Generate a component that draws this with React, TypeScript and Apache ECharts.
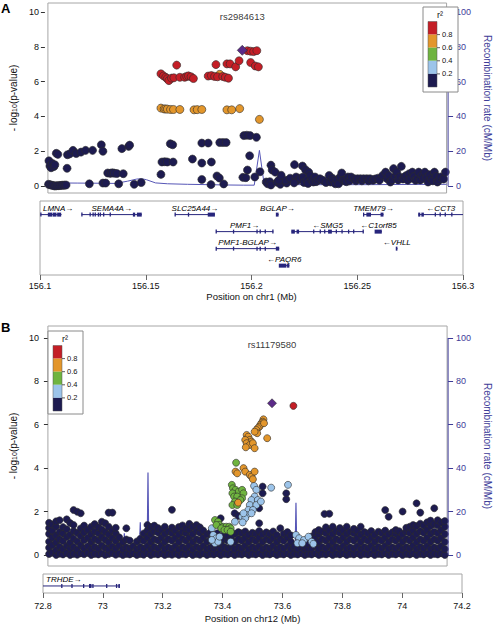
import React, { useEffect, useRef } from "react";
import * as echarts from "echarts";

// ================= Panel A data =================
const indexSnpA = { id: "rs2984613", x: 156.1975, y: 7.8 };
const xTicksA = [156.1, 156.15, 156.2, 156.25, 156.3];
const pTicks = [0, 2, 4, 6, 8, 10];
const recombTicks = [0, 20, 40, 60, 80, 100];
const titleY = 9.72;

const navyA: [number, number][] = [
  [156.1005, 1.45], [156.101, 1.15], [156.1016, 1.05], [156.1022, 1.3], [156.103, 1.12], [156.1035, 1.22],
  [156.1042, 1.88], [156.105, 1.82],
  [156.1003, 0.1], [156.1011, 0.07], [156.1019, 0.05], [156.1027, 0.03], [156.1035, 0.0], [156.1043, 0.02],
  [156.1051, 0.02], [156.1059, 0.03], [156.1067, 0.04], [156.1075, 0.05], [156.1083, 0.05], [156.1091, 0.06],
  [156.1098, 1.8], [156.111, 1.85], [156.1126, 2.05], [156.1142, 1.87], [156.1096, 1.02],
  [156.1166, 1.95], [156.1189, 2.05], [156.1224, 2.05], [156.1268, 2.37], [156.1276, 2.0],
  [156.1208, 0.13], [156.1276, 0.17], [156.129, 0.17],
  [156.13, 0.75], [156.1313, 0.73], [156.1323, 0.76], [156.1333, 0.74], [156.1346, 0.72], [156.1378, 0.71],
  [156.1355, 0.13], [156.1371, 2.15], [156.1405, 2.28], [156.141, 2.35],
  [156.1433, 0.1], [156.1468, 0.2],
  [156.1567, 0.67], [156.1572, 1.38], [156.1586, 1.4], [156.1599, 1.38], [156.1628, 1.38],
  [156.1614, 2.43], [156.1626, 2.37],
  [156.1725, 1.55], [156.1772, 2.47], [156.1804, 2.47], [156.1772, 1.32], [156.182, 1.38],
  [156.1772, 0.38], [156.1818, 0.08], [156.1848, 0.58], [156.186, 0.46], [156.1882, 0.12],
  [156.1862, 2.5], [156.1878, 2.5], [156.1894, 2.5],
  [156.1983, 2.9], [156.1998, 2.92], [156.2014, 2.9], [156.2046, 2.8],
  [156.2012, 1.74], [156.2001, 0.92], [156.1978, 0.5], [156.1993, 0.48], [156.2038, 0.52],
  [156.2064, 0.82], [156.2095, 0.23], [156.2103, 0.13],
  [156.2119, 1.2], [156.2125, 0.92], [156.2113, 0.25], [156.2119, 0.06], [156.215, 0.22], [156.2166, 0.1],
  [156.2198, 0.17], [156.219, 0.33], [156.2158, 0.33], [156.214, 0.8], [156.217, 0.62], [156.2215, 0.45],
  [156.2237, 1.23], [156.2245, 0.52], [156.2253, 0.33], [156.2235, 0.18], [156.2265, 0.45], [156.2277, 1.15],
  [156.228, 0.52], [156.2285, 0.2], [156.2292, 0.94], [156.23, 0.33], [156.2305, 0.15], [156.2308, 0.8],
  [156.2316, 0.61], [156.2324, 0.33], [156.2332, 0.23], [156.234, 0.52], [156.2345, 0.25], [156.2355, 0.33],
  [156.2365, 0.42], [156.2379, 0.33], [156.2395, 0.2], [156.2411, 0.61], [156.2419, 0.23], [156.2427, 0.45],
  [156.2434, 0.33], [156.2442, 0.13], [156.245, 0.35], [156.2458, 0.13], [156.2466, 0.52], [156.2474, 0.75],
  [156.2482, 0.33], [156.2489, 0.33], [156.2497, 0.25], [156.2505, 0.52], [156.2513, 0.3], [156.2521, 0.52],
  [156.2537, 0.42], [156.2545, 0.3], [156.2553, 0.42], [156.2568, 0.42], [156.2575, 0.3], [156.2584, 0.42],
  [156.26, 0.42], [156.2608, 0.3], [156.2616, 0.42], [156.2631, 0.33], [156.264, 0.4], [156.2655, 0.45],
  [156.2663, 0.33], [156.2679, 0.61], [156.2694, 0.8], [156.2702, 0.42], [156.271, 0.6], [156.2718, 0.23],
  [156.2726, 0.35], [156.2734, 1.0], [156.2742, 0.55], [156.275, 0.8], [156.2757, 0.35], [156.2765, 0.52],
  [156.2773, 1.13], [156.2781, 0.4], [156.2789, 0.52], [156.2797, 0.6], [156.2805, 0.33], [156.2813, 0.71],
  [156.282, 0.45], [156.2828, 0.8], [156.2836, 0.55], [156.2844, 0.33], [156.2852, 0.4], [156.286, 0.8],
  [156.2868, 0.35], [156.2876, 0.61], [156.2884, 0.45], [156.2891, 0.8], [156.29, 0.5], [156.2907, 0.23],
  [156.2915, 0.65], [156.2923, 0.42], [156.2931, 0.3], [156.2939, 0.8], [156.2947, 0.55], [156.2954, 0.23],
  [156.2962, 0.35], [156.297, 0.52], [156.2985, 0.4], [156.2994, 0.8],
];

const orangeA: [number, number][] = [
  [156.1567, 4.48], [156.1583, 4.43], [156.1591, 4.43], [156.1599, 4.42], [156.1615, 4.4], [156.163, 4.4],
  [156.1662, 4.4], [156.1733, 4.38], [156.1749, 4.39], [156.1772, 4.4], [156.1898, 4.38], [156.1922, 4.38],
  [156.1962, 4.45], [156.2061, 3.83], [156.1862, 6.42],
];

const redA: [number, number][] = [
  [156.1567, 6.45], [156.158, 6.33], [156.1591, 6.25], [156.1599, 6.17], [156.1607, 6.06], [156.162, 6.2],
  [156.1632, 6.22], [156.1646, 6.95], [156.1662, 6.25], [156.1686, 6.25], [156.1696, 6.3], [156.1705, 6.33],
  [156.1718, 6.28], [156.173, 6.18], [156.1804, 6.32], [156.182, 6.35], [156.1836, 6.3], [156.1851, 6.28],
  [156.1843, 6.98], [156.1877, 6.3], [156.189, 6.25], [156.1906, 6.2], [156.1898, 7.02], [156.1914, 7.02],
  [156.1942, 6.85], [156.1959, 7.2], [156.2001, 7.78], [156.2017, 7.75], [156.2032, 7.73], [156.2048, 7.78],
  [156.2017, 7.1], [156.204, 6.9], [156.2056, 6.85],
];

const recombA: [number, number][] = [
  [156.1, 1.8], [156.115, 1.7], [156.128, 1.6], [156.134, 1.5], [156.14, 2.8], [156.1445, 4.0], [156.147, 4.2],
  [156.1495, 3.6], [156.154, 1.8], [156.16, 1.3], [156.17, 1.0], [156.18, 0.8], [156.19, 0.6], [156.198, 0.5],
  [156.2035, 0.5], [156.2061, 20.5], [156.2085, 0.8], [156.2175, 0.9], [156.2178, 1.8], [156.2245, 1.8],
  [156.2248, 0.8], [156.26, 0.8], [156.28, 0.9], [156.3, 1.0],
];

type Gene = { name: string; start: number; end: number; row: number; strand: number; exons: [number, number][] };

const genesA: Gene[] = [
  { name: "LMNA", start: 156.1003, end: 156.1102, row: 1, strand: 1,
    exons: [[156.1003, 156.1005], [156.1039, 156.1058], [156.1062, 156.1078], [156.1083, 156.11]] },
  { name: "SEMA4A", start: 156.1197, end: 156.1481, row: 1, strand: 1,
    exons: [[156.1197, 156.1199], [156.1236, 156.1238], [156.125, 156.1252], [156.126, 156.1263], [156.1275, 156.1277],
      [156.1284, 156.1287], [156.13, 156.1304], [156.1331, 156.1333], [156.1441, 156.145], [156.146, 156.1481]] },
  { name: "SLC25A44", start: 156.1638, end: 156.1827, row: 1, strand: 1,
    exons: [[156.1638, 156.164], [156.1701, 156.1704], [156.1795, 156.1827]] },
  { name: "BGLAP", start: 156.2117, end: 156.2128, row: 1, strand: 1, exons: [[156.2117, 156.2128]] },
  { name: "TMEM79", start: 156.2529, end: 156.2624, row: 1, strand: 1,
    exons: [[156.2529, 156.2531], [156.2545, 156.2565], [156.2612, 156.2624]] },
  { name: "CCT3", start: 156.279, end: 156.3, row: 1, strand: -1,
    exons: [[156.279, 156.2798], [156.2805, 156.2815], [156.2868, 156.2871], [156.2891, 156.2894],
      [156.2915, 156.2918], [156.2946, 156.2949]] },
  { name: "PMF1", start: 156.1832, end: 156.2103, row: 2, strand: 1,
    exons: [[156.1832, 156.1834], [156.1914, 156.1916], [156.2025, 156.2028], [156.204, 156.2043],
      [156.2064, 156.2067], [156.21, 156.2103]] },
  { name: "SMG5", start: 156.219, end: 156.2529, row: 2, strand: -1,
    exons: [[156.219, 156.2205], [156.2215, 156.2225], [156.2293, 156.2296], [156.2324, 156.2327], [156.2345, 156.2348],
      [156.2364, 156.238], [156.24, 156.2403], [156.2427, 156.243], [156.2458, 156.2461], [156.2482, 156.2485],
      [156.2527, 156.2529]] },
  { name: "C1orf85", start: 156.2584, end: 156.2616, row: 2, strand: -1, exons: [[156.2584, 156.2616]] },
  { name: "PMF1-BGLAP", start: 156.1832, end: 156.2131, row: 3, strand: 1,
    exons: [[156.1832, 156.1834], [156.1914, 156.1916], [156.2025, 156.2028], [156.204, 156.2043],
      [156.2064, 156.2067], [156.2117, 156.2131]] },
  { name: "VHLL", start: 156.2684, end: 156.269, row: 3, strand: -1, exons: [[156.2684, 156.269]] },
  { name: "PAQR6", start: 156.2131, end: 156.2179, row: 4, strand: -1,
    exons: [[156.2131, 156.2165], [156.217, 156.2179]] },
];

// ================= Panel B data =================
const indexSnpB = { id: "rs11179580", x: 73.586, y: 6.99 };
const xTicksB = [72.8, 73, 73.2, 73.4, 73.6, 73.8, 74, 74.2];

const navyBCols: [number, number[]][] = [
  [72.804, [0.04, 0.33, 0.61, 0.97, 1.24, 1.48]], [72.816, [0.1, 0.45, 0.8, 1.12, 1.4]],
  [72.829, [0.0, 0.22, 0.58, 0.9, 1.31, 1.55]], [72.841, [0.06, 0.38, 0.72, 1.05, 1.6]],
  [72.853, [0.02, 0.27, 0.64, 0.99, 1.28]], [72.866, [0.08, 0.41, 0.83, 1.18, 1.64]],
  [72.878, [0.0, 0.3, 0.56, 0.93, 1.47]], [72.89, [0.05, 0.36, 0.75, 1.1, 1.38, 2.07]],
  [72.903, [0.01, 0.24, 0.62, 1.01, 1.99]], [72.915, [0.07, 0.44, 0.87, 1.22, 1.92]],
  [72.927, [0.03, 0.31, 0.68, 1.04, 1.35]], [72.94, [0.09, 0.4, 0.79, 1.15]],
  [72.952, [0.0, 0.26, 0.6, 0.95, 1.3]], [72.964, [0.05, 0.37, 0.73, 1.08, 1.42]],
  [72.977, [0.02, 0.29, 0.66, 1.0, 1.27]], [72.989, [0.07, 0.43, 0.82, 1.17, 1.53]],
  [73.001, [0.0, 0.32, 0.7, 1.06, 1.46]], [73.013, [0.04, 0.25, 0.58, 0.94, 1.3, 1.95]],
  [73.026, [0.08, 0.39, 0.77, 1.12, 1.95]], [73.038, [0.01, 0.3, 0.64, 0.99, 1.25]],
  [73.05, [0.06, 0.42, 0.81]], [73.063, [0.0, 0.27, 0.6]],
  [73.075, [0.05, 0.35, 0.71, 1.23]], [73.087, [0.02, 0.3, 0.66]],
  [73.099, [0.07, 0.4]], [73.112, [0.0, 0.26, 0.62]],
  [73.124, [0.04, 0.36, 0.74]], [73.136, [0.01, 0.29, 0.65, 0.99]],
  [73.149, [0.08, 0.41, 0.8, 1.12, 1.38]], [73.161, [0.0, 0.25, 0.59, 0.96, 1.28]],
  [73.173, [0.05, 0.37, 0.72, 1.09, 1.35]], [73.186, [0.02, 0.3, 0.67, 1.03, 1.24]],
  [73.198, [0.07, 0.43, 0.8, 1.15]], [73.21, [0.0, 0.27, 0.61, 0.97, 1.3]],
  [73.222, [0.04, 0.35, 0.73, 1.08]], [73.235, [0.01, 0.29, 0.66, 1.0, 1.26, 2.08]],
  [73.247, [0.06, 0.4, 0.78, 1.13]], [73.259, [0.0, 0.25, 0.6, 0.94, 1.29]],
  [73.272, [0.05, 0.36, 0.74, 1.07, 1.36]], [73.284, [0.02, 0.3, 0.65, 1.01, 1.22]],
  [73.296, [0.08, 0.42, 0.8, 1.16, 1.43]], [73.308, [0.0, 0.26, 0.6, 0.96, 1.3]],
  [73.321, [0.04, 0.37, 0.72, 1.1, 1.38]], [73.333, [0.01, 0.3, 0.66, 1.02, 1.27]],
  [73.345, [0.07, 0.41, 0.79, 1.12]], [73.358, [0.0, 0.27, 0.61, 0.95]],
  [73.37, [0.05, 0.34, 0.7, 1.03]], [73.382, [0.02, 0.3, 0.45]],
  [73.394, [0.07, 0.38, 1.0]], [73.406, [0.0, 0.27, 0.55, 1.69]],
  [73.419, [0.05, 0.36, 0.72, 0.95]], [73.431, [0.02, 0.3, 0.65, 0.88]],
  [73.443, [0.07, 0.4, 0.8]], [73.455, [0.0, 0.27, 0.6, 0.98, 1.92]],
  [73.468, [0.05, 0.36, 0.73, 1.05, 1.8]], [73.48, [0.02, 0.3, 0.66, 1.0]],
  [73.492, [0.07, 0.42, 0.78, 1.08]], [73.504, [0.0, 0.25, 0.6, 0.93]],
  [73.517, [0.05, 0.36, 0.72, 1.02]], [73.529, [0.02, 0.3, 0.64, 0.98]],
  [73.541, [0.07, 0.4, 0.79, 1.1, 1.46, 2.15]], [73.553, [0.0, 0.27, 0.61, 0.95, 2.84, 3.15]],
  [73.566, [0.05, 0.35, 0.72, 1.04]], [73.578, [0.02, 0.3, 0.66, 0.97]],
  [73.59, [0.07, 0.41, 0.78, 1.08]], [73.603, [0.0, 0.26, 0.6, 0.92]],
  [73.615, [0.05, 0.36, 0.73, 1.23]], [73.627, [0.02, 0.3, 0.65, 0.98]],
  [73.636, [2.57, 2.84]], [73.64, [0.07, 0.4, 0.8, 1.05]],
  [73.652, [0.0, 0.27, 0.61, 0.9]], [73.664, [0.05, 0.33, 0.4]],
  [73.676, [0.02, 0.28]], [73.689, [0.07, 0.35]],
  [73.701, [0.0, 0.27, 0.4]], [73.713, [0.05, 0.3, 0.5]],
  [73.725, [0.02, 0.3, 0.85]], [73.738, [0.07, 0.4, 0.78, 1.05]],
  [73.75, [0.0, 0.27, 0.6, 0.95, 1.15]], [73.762, [0.05, 0.36, 0.72, 1.08]],
  [73.77, [1.89]], [73.775, [0.02, 0.3, 0.66, 1.0, 1.27]],
  [73.787, [0.07, 0.42, 0.79, 1.12, 1.9]], [73.799, [0.0, 0.26, 0.6, 0.96, 1.3]],
  [73.811, [0.05, 0.37, 0.73, 1.09]], [73.824, [0.02, 0.3, 0.65, 1.01, 1.24]],
  [73.836, [0.07, 0.41, 0.8, 1.13]], [73.848, [0.0, 0.27, 0.61, 0.97, 1.3]],
  [73.86, [0.05, 0.35, 0.72, 1.06]], [73.873, [0.02, 0.3, 0.66, 1.0, 1.2]],
  [73.885, [0.07, 0.4, 0.78, 1.11]], [73.897, [0.0, 0.27, 0.6, 0.94, 1.3]],
  [73.91, [0.05, 0.36, 0.73, 1.05]], [73.922, [0.02, 0.3, 0.65, 0.99]],
  [73.934, [0.07, 0.42, 0.79, 1.1]], [73.946, [0.0, 0.26, 0.61, 0.93]],
  [73.959, [0.05, 0.37, 0.72, 1.07]], [73.971, [0.02, 0.3, 0.66, 1.0]],
  [73.983, [0.07, 0.41, 0.8, 1.12, 2.07]], [73.995, [0.0, 0.27, 0.6, 0.95, 1.76]],
  [74.008, [0.05, 0.35, 0.72, 1.04]], [74.02, [0.02, 0.3, 0.65, 0.98, 1.15]],
  [74.032, [0.07, 0.4, 0.78, 1.09]], [74.044, [0.0, 0.27, 0.61, 0.96, 2.0]],
  [74.057, [0.05, 0.36, 0.73, 1.08, 1.25]], [74.069, [0.02, 0.3, 0.66, 1.01, 1.3]],
  [74.081, [0.07, 0.42, 0.8, 1.14, 1.38]], [74.093, [0.0, 0.26, 0.6, 0.97, 1.33, 2.38]],
  [74.106, [0.05, 0.37, 0.72, 1.09, 1.44, 1.95]], [74.118, [0.02, 0.3, 0.65, 1.02, 1.36]],
  [74.13, [0.07, 0.41, 0.79, 1.15, 1.5]], [74.142, [0.0, 0.27, 0.61, 0.98, 1.33, 1.58]],
  [74.155, [0.05, 0.35, 0.72, 1.07, 1.42, 2.15]], [74.167, [0.02, 0.3, 0.66, 1.0, 1.37, 1.6]],
  [74.179, [0.07, 0.4, 0.78, 1.14, 1.49]], [74.192, [0.0, 0.27, 0.6, 0.96, 1.3, 1.56]],
];

const lightBlueB: [number, number][] = [
  [73.523, 3.18], [73.531, 3.0], [73.583, 3.1], [73.642, 3.23], [73.525, 2.69], [73.514, 2.53], [73.536, 2.53],
  [73.508, 2.3], [73.531, 2.3], [73.547, 2.46], [73.503, 2.07], [73.519, 2.07], [73.497, 1.84], [73.481, 1.76],
  [73.492, 1.69], [73.514, 1.92], [73.456, 1.53], [73.486, 1.92], [73.483, 1.5], [73.375, 1.23], [73.38, 0.92],
  [73.391, 0.77], [73.386, 0.54], [73.397, 0.61], [73.402, 0.84], [73.375, 0.69], [73.441, 0.61], [73.67, 0.92],
  [73.681, 0.77], [73.698, 0.69], [73.714, 0.84], [73.675, 0.54], [73.692, 0.54], [73.725, 0.61], [73.731, 0.51],
];

const greenB: [number, number][] = [
  [73.46, 4.25], [73.445, 3.23], [73.449, 3.07], [73.458, 3.0], [73.469, 2.92], [73.481, 3.0], [73.486, 2.84],
  [73.447, 2.84], [73.453, 2.69], [73.464, 2.69], [73.481, 2.61], [73.456, 2.46], [73.447, 2.3], [73.464, 2.3],
  [73.475, 2.53], [73.386, 1.61], [73.397, 1.53], [73.402, 1.38], [73.414, 1.3], [73.425, 1.3], [73.436, 1.3],
  [73.441, 1.23], [73.391, 1.38], [73.408, 1.23], [73.419, 1.15], [73.43, 1.15], [73.441, 1.07],
];

const orangeB: [number, number][] = [
  [73.556, 6.25], [73.553, 6.14], [73.549, 6.07], [73.545, 5.99], [73.542, 5.91], [73.536, 5.84], [73.531, 5.76],
  [73.534, 5.61], [73.525, 5.68], [73.558, 6.07], [73.497, 5.53], [73.503, 5.45], [73.508, 5.3], [73.514, 5.22],
  [73.492, 5.3], [73.497, 5.15], [73.508, 5.07], [73.519, 5.15], [73.525, 4.92], [73.494, 4.96], [73.569, 5.38],
  [73.458, 3.84], [73.464, 3.76], [73.486, 4.0], [73.492, 3.84], [73.508, 3.69], [73.514, 3.61], [73.525, 3.84],
  [73.519, 3.49], [73.467, 2.41],
];

const redB: [number, number][] = [[73.661, 6.87]];

const recombB: [number, number][] = [
  [72.8, 0.6], [72.9, 0.5], [73.0, 0.8], [73.064, 0.6], [73.068, 10], [73.071, 0.6], [73.12, 0.5], [73.124, 15],
  [73.127, 0.5], [73.148, 0.5], [73.151, 38], [73.154, 0.5], [73.3, 0.4], [73.46, 0.8], [73.47, 2.5], [73.5, 0.6],
  [73.667, 0.6], [73.67, 24], [73.673, 0.6], [73.9, 0.5], [74.2, 0.6],
];

const genesB: Gene[] = [
  { name: "TRHDE", start: 72.62, end: 73.057, row: 1, strand: 1,
    exons: [[72.862, 72.864], [72.896, 72.898], [72.935, 72.937], [72.955, 72.962], [72.966, 72.969],
      [73.012, 73.014], [73.045, 73.048], [73.053, 73.057]] },
];

const legendLabels = ["0.8", "0.6", "0.4", "0.2"];

// ================= Styles =================
const FONT = '"Liberation Sans", Arial, Helvetica, sans-serif';
const C = {
  navy: "#1d1b50", lightBlue: "#9cc4ea", green: "#6fb43f", orange: "#e3962b", red: "#c41e26",
  purple: "#5b2a88", recomb: "#5656b6", axisBlue: "#3e3c98", gene: "#27257c", border: "#a6a6a6",
};
const legendColors = [C.red, C.orange, C.green, C.lightBlue, C.navy];

const measureCtx = typeof document !== "undefined" ? document.createElement("canvas").getContext("2d") : null;
function textWidth(t: string, font: string) {
  if (!measureCtx) return t.length * 5;
  measureCtx.font = font;
  return measureCtx.measureText(t).width;
}

function geneRenderer(genes: Gene[]) {
  const font = `italic 8px ${FONT}`;
  return (params: any, api: any) => {
    const g = genes[params.dataIndex];
    const cs = params.coordSys;
    const p0 = api.coord([g.start, g.row]);
    const x1 = api.coord([g.end, g.row])[0];
    const y = p0[1];
    const L = Math.max(p0[0], cs.x);
    const R = Math.min(x1, cs.x + cs.width);
    const children: any[] = [
      { type: "line", shape: { x1: L, y1: y, x2: R, y2: y }, style: { stroke: C.gene, lineWidth: 1 } },
    ];
    g.exons.forEach(([s, e]) => {
      const a = api.coord([s, g.row])[0];
      const b = api.coord([e, g.row])[0];
      children.push({
        type: "rect",
        shape: { x: a - 0.4, y: y - 2, width: Math.max(1.3, b - a + 0.4), height: 4 },
        style: { fill: C.gene },
      });
    });
    const label = g.strand > 0 ? `${g.name}\u2192` : `\u2190${g.name}`;
    const w = textWidth(label, font);
    let cx = (p0[0] + x1) / 2;
    cx = Math.max(cs.x + 3 + w / 2, Math.min(cs.x + cs.width - 1 - w / 2, cx));
    children.push({
      type: "text",
      x: cx,
      y: y - 6.5,
      style: {
        text: label, fill: "#000", fontSize: 8, fontStyle: "italic", fontFamily: FONT,
        align: "center", verticalAlign: "middle",
      },
    });
    return { type: "group", children };
  };
}

const fmtX = (v: number) => String(+(+v).toFixed(2));

function scatter(data: any[], color: string, size: number, xi: number, yi: number, symbol = "circle") {
  return {
    type: "scatter", xAxisIndex: xi, yAxisIndex: yi, data, symbol, symbolSize: size, silent: true, z: 3,
    itemStyle: { color, borderColor: "#2b2b2b", borderWidth: 0.6, opacity: 1 },
  };
}

function titleLabel(snp: { id: string; x: number }, xi: number, yi: number) {
  return {
    type: "scatter", xAxisIndex: xi, yAxisIndex: yi, data: [[snp.x, titleY]], symbolSize: 1, silent: true, z: 6,
    itemStyle: { color: "transparent", borderWidth: 0 },
    label: { show: true, position: "inside", formatter: () => snp.id, fontSize: 9.5, color: "#000",
      textBorderWidth: 0, fontFamily: FONT },
  };
}

function leftY(grid: number, min: number, max: number, offset: number, margin: number, nameGap: number) {
  return {
    gridIndex: grid, type: "value", min, max, position: "left", offset,
    axisLine: { show: false },
    axisTick: { show: true, length: 4, customValues: pTicks, lineStyle: { color: "#333", width: 1 } },
    axisLabel: { customValues: pTicks, fontSize: 9, color: "#111", margin, fontFamily: FONT },
    splitLine: { show: false },
    name: "- log{sub|10}(p-value)", nameLocation: "middle", nameGap, nameRotate: 90,
    nameTextStyle: { fontSize: 10, color: "#111", fontFamily: FONT, rich: { sub: { fontSize: 7, verticalAlign: "bottom", fontFamily: FONT, color: "#111" } } },
  };
}

function rightY(grid: number, min: number, max: number, offset: number, nameGap: number) {
  return {
    gridIndex: grid, type: "value", min, max, position: "right", offset,
    axisLine: { show: false },
    axisTick: { show: true, length: 5, customValues: recombTicks, lineStyle: { color: C.axisBlue, width: 1 } },
    axisLabel: { customValues: recombTicks, fontSize: 9, color: C.axisBlue, margin: 8, fontFamily: FONT },
    splitLine: { show: false },
    name: "Recombination rate (cM/Mb)", nameLocation: "middle", nameGap, nameRotate: -90,
    nameTextStyle: { fontSize: 10, color: C.axisBlue, fontFamily: FONT },
  };
}

function bottomX(grid: number, min: number, max: number, ticks: number[], name: string, margin: number, nameGap: number) {
  return {
    gridIndex: grid, type: "value", min, max, position: "bottom",
    axisLine: { show: false },
    axisTick: { show: true, length: 5, customValues: ticks, lineStyle: { color: "#666", width: 1 } },
    axisLabel: { customValues: ticks, formatter: fmtX, fontSize: 9, color: "#111", margin, fontFamily: FONT },
    splitLine: { show: false },
    name, nameLocation: "middle", nameGap,
    nameTextStyle: { fontSize: 9.5, color: "#111", fontFamily: FONT },
  };
}

function legendGraphic(x: number, y: number, h: number): any[] {
  const els: any[] = [];
  els.push({ type: "rect", shape: { x, y, width: 35, height: h }, style: { fill: "#fff", stroke: "#8a8a8a", lineWidth: 1 }, z: 10 });
  els.push({ type: "text", x: x + 17, y: y + 8, style: { text: "r\u00b2", fontSize: 9, fontFamily: FONT, fill: "#111", align: "center", verticalAlign: "middle" }, z: 11 });
  const bx = x + 5, by = y + 14.5, bh = 13.1;
  legendColors.forEach((c, i) => {
    els.push({ type: "rect", shape: { x: bx, y: by + i * bh, width: 9, height: bh }, style: { fill: c }, z: 11 });
  });
  els.push({ type: "rect", shape: { x: bx, y: by, width: 9, height: bh * 5 }, style: { fill: "none", stroke: "#555", lineWidth: 0.5 }, z: 12 });
  legendLabels.forEach((t, i) => {
    const ly = by + (i + 1) * bh;
    els.push({ type: "line", shape: { x1: bx + 9, y1: ly, x2: bx + 12, y2: ly }, style: { stroke: "#333", lineWidth: 0.8 }, z: 11 });
    els.push({ type: "text", x: bx + 14, y: ly, style: { text: t, fontSize: 7.5, fontFamily: FONT, fill: "#111", align: "left", verticalAlign: "middle" }, z: 11 });
  });
  return els;
}

export default function App() {
  const ref = useRef<HTMLDivElement>(null);
  useEffect(() => {
    if (!ref.current) return;
    const chart = echarts.init(ref.current, undefined, { renderer: "svg" });
    const navyB: [number, number][] = [];
    navyBCols.forEach(([x, ys]) => ys.forEach((y) => navyB.push([x, y])));

    const gridStyle = { show: true, borderColor: C.border, borderWidth: 1, backgroundColor: "transparent" };
    const option: any = {
      animation: false,
      grid: [
        { left: 40, top: 3, width: 423, height: 190, ...gridStyle },
        { left: 40, top: 201, width: 423, height: 74, ...gridStyle },
        { left: 43, top: 326, width: 419, height: 240, ...gridStyle },
        { left: 43, top: 574, width: 419, height: 19, ...gridStyle },
      ],
      xAxis: [
        { gridIndex: 0, type: "value", min: 156.1, max: 156.3, show: false },
        bottomX(1, 156.1, 156.3, xTicksA, "Position on chr1 (Mb)", 6, 16),
        { gridIndex: 2, type: "value", min: 72.8, max: 74.2, show: false },
        bottomX(3, 72.8, 74.2, xTicksB, "Position on chr12 (Mb)", 8, 20),
      ],
      yAxis: [
        leftY(0, -0.4, 10.52, 3, 6, 20),
        rightY(0, -4, 105.2, 1.5, 22),
        { gridIndex: 1, type: "value", min: 0.2, max: 4.55, inverse: true, show: false },
        leftY(2, -0.51, 10.55, 0, 9, 22),
        rightY(2, -5.1, 105.5, 1, 23),
        { gridIndex: 3, type: "value", min: 0.2, max: 1.47, inverse: true, show: false },
      ],
      series: [
        // ---- Panel A ----
        { type: "line", xAxisIndex: 0, yAxisIndex: 1, data: recombA, showSymbol: false, silent: true, z: 1,
          lineStyle: { color: C.recomb, width: 1 } },
        scatter(navyA, C.navy, 8, 0, 0),
        scatter(orangeA, C.orange, 8, 0, 0),
        scatter(redA, C.red, 8, 0, 0),
        scatter([[indexSnpA.x, indexSnpA.y]], C.purple, 10, 0, 0, "diamond"),
        titleLabel(indexSnpA, 0, 0),
        { type: "custom", xAxisIndex: 1, yAxisIndex: 2, renderItem: geneRenderer(genesA), silent: true,
          data: genesA.map((g) => [g.start, g.end, g.row]), encode: { x: [0, 1], y: 2 } },
        // ---- Panel B ----
        { type: "line", xAxisIndex: 2, yAxisIndex: 4, data: recombB, showSymbol: false, silent: true, z: 1,
          lineStyle: { color: C.recomb, width: 1.2 } },
        scatter(navyB, C.navy, 7, 2, 3),
        scatter(lightBlueB, C.lightBlue, 7, 2, 3),
        scatter(greenB, C.green, 7, 2, 3),
        scatter(orangeB, C.orange, 7, 2, 3),
        scatter(redB, C.red, 7, 2, 3),
        scatter([[indexSnpB.x, indexSnpB.y]], C.purple, 9, 2, 3, "diamond"),
        titleLabel(indexSnpB, 2, 3),
        { type: "custom", xAxisIndex: 3, yAxisIndex: 5, renderItem: geneRenderer(genesB), silent: true,
          data: genesB.map((g) => [g.start, g.end, g.row]), encode: { x: [0, 1], y: 2 } },
      ],
    };
    chart.setOption(option);

    // right-axis lines spanning 0..100 cM/Mb
    const axisLine = (yAxisIndex: number, xAxisIndex: number, xMax: number, off: number) => {
      const x = (chart.convertToPixel({ xAxisIndex }, xMax) as number) + off;
      const y0 = chart.convertToPixel({ yAxisIndex }, recombTicks[0]) as number;
      const y1 = chart.convertToPixel({ yAxisIndex }, recombTicks[recombTicks.length - 1]) as number;
      return { type: "line", shape: { x1: x, y1: y0, x2: x, y2: y1 }, style: { stroke: C.axisBlue, lineWidth: 1 }, z: 5 };
    };

    const graphic: any[] = [
      { type: "text", x: 1, y: 2, style: { text: "A", fontSize: 13, fontWeight: "bold", fontFamily: FONT, fill: "#000" } },
      { type: "text", x: 1, y: 321, style: { text: "B", fontSize: 13, fontWeight: "bold", fontFamily: FONT, fill: "#000" } },
      axisLine(1, 0, 156.3, 1.5),
      axisLine(4, 2, 74.2, 1),
      ...legendGraphic(423, 7, 85),
      ...legendGraphic(48, 331, 83),
    ];
    chart.setOption({ graphic });

    return () => chart.dispose();
  }, []);

  return <div ref={ref} style={{ position: "absolute", left: 0, top: 0, width: 500, height: 626 }} />;
}
